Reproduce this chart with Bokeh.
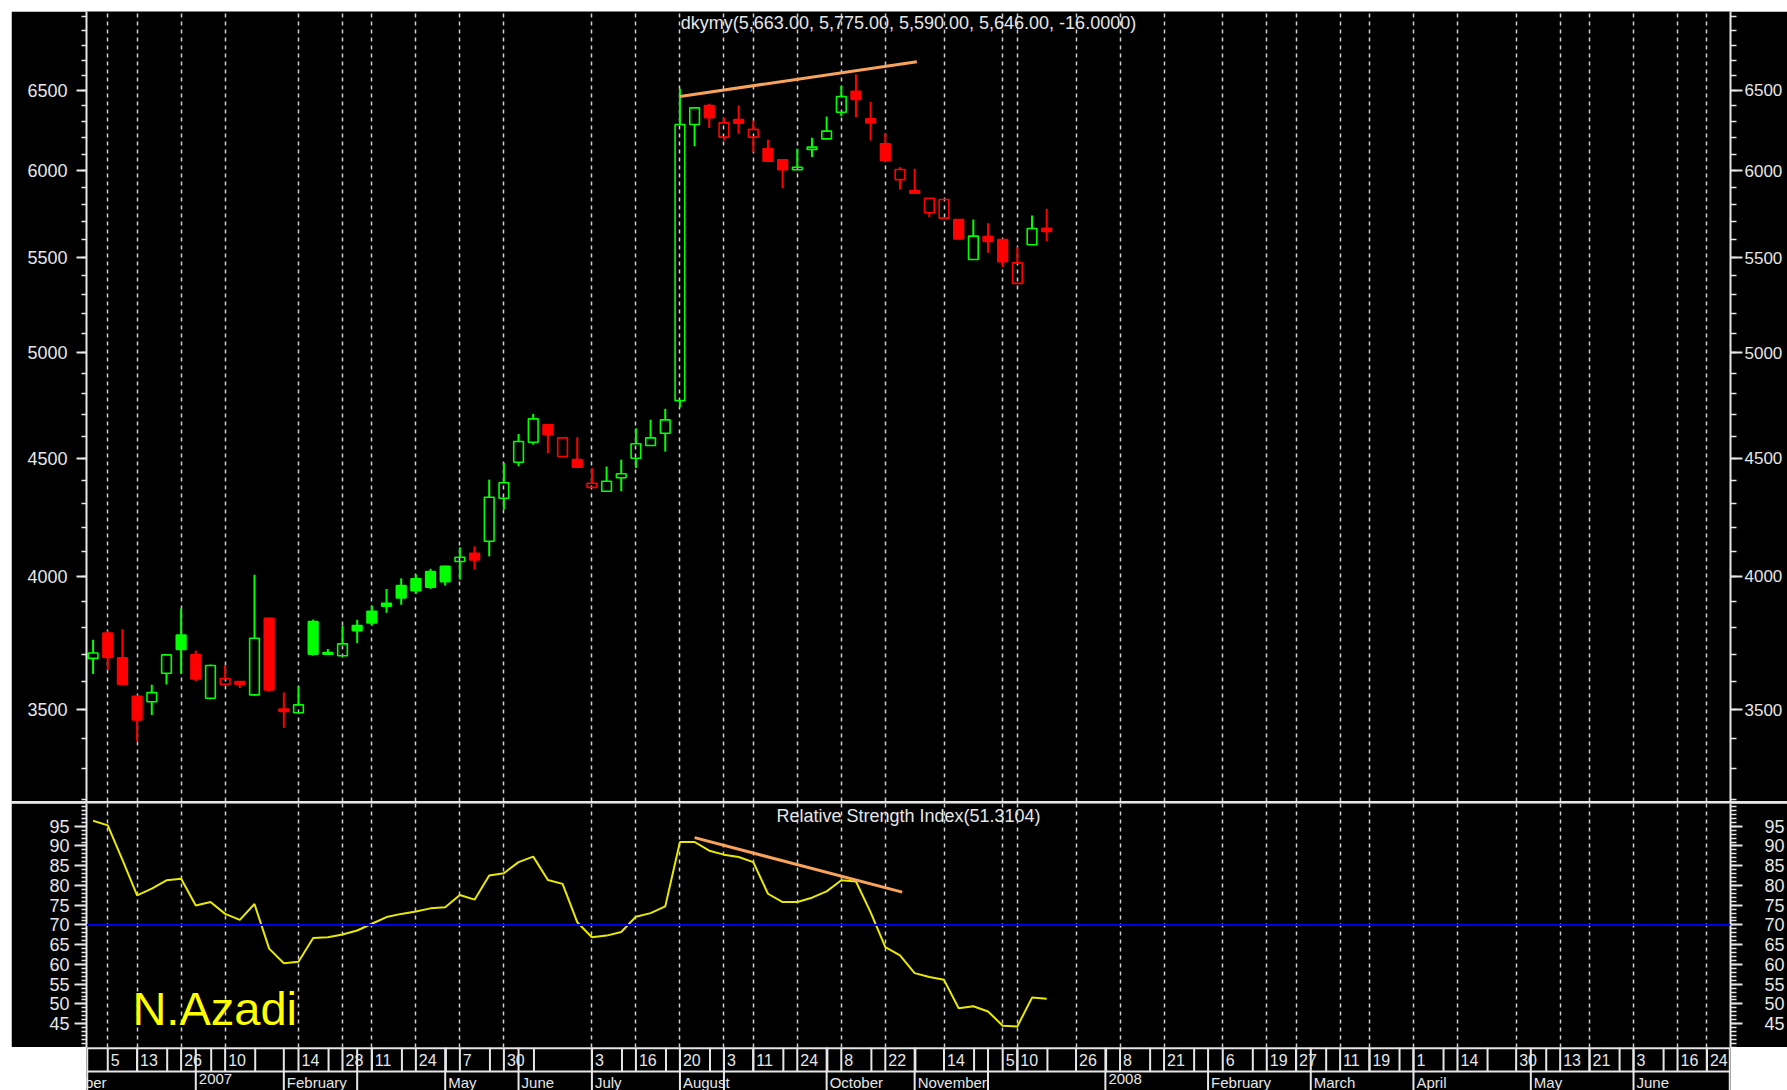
from bokeh.plotting import figure
from bokeh.models import (Range1d, FixedTicker, LogAxis, LinearAxis, Span, Label,
                          ColumnDataSource, PrintfTickFormatter, Spacer)
from bokeh.layouts import column
from bokeh.embed import file_html
from bokeh.resources import INLINE
from bokeh.core.properties import value

# ---------------- data ----------------
opens = [3684, 3779, 3686, 3547, 3528, 3630, 3771, 3698, 3540, 3590, 3600, 3552, 3835, 3502, 3489, 3822,
         3700, 3694, 3807, 3862, 3893, 3962, 3989, 4018, 4039, 4059, 4092, 4142, 4324, 4482, 4573, 4653,
         4508, 4494, 4371, 4354, 4413, 4500, 4558, 4614, 4767, 6283, 6403, 6204, 6314, 6204, 6132, 6065,
         6005, 6128, 6193, 6360, 6495, 6319, 6163, 5946, 5881, 5752, 5721, 5713, 5489, 5617, 5600, 5360,
         5571, 5663]
highs = [3753, 3785, 3793, 3550, 3588, 3700, 3873, 3713, 3662, 3660, 3602, 4005, 3838, 3561, 3582, 3830,
         3719, 3807, 3829, 3884, 3949, 3991, 4006, 4029, 4042, 4117, 4121, 4405, 4479, 4611, 4704, 4656,
         4596, 4596, 4456, 4463, 4494, 4637, 4677, 4728, 6511, 6392, 6414, 6325, 6403, 6308, 6187, 6068,
         6132, 6200, 6333, 6531, 6605, 6425, 6228, 6020, 6010, 5836, 5832, 5716, 5713, 5692, 5602, 5558,
         5736, 5775]
lows = [3627, 3642, 3588, 3391, 3481, 3589, 3627, 3601, 3537, 3588, 3577, 3550, 3564, 3437, 3487, 3694,
        3699, 3692, 3741, 3807, 3856, 3887, 3929, 3949, 3962, 3986, 4026, 4080, 4275, 4464, 4562, 4523,
        4505, 4458, 4369, 4352, 4354, 4456, 4556, 4530, 4735, 6148, 6260, 6183, 6224, 6111, 6054, 5895,
        6003, 6081, 6191, 6335, 6329, 6183, 6059, 5887, 5864, 5727, 5719, 5600, 5487, 5526, 5447, 5358,
        5569, 5590]
closes = [3704, 3688, 3590, 3464, 3560, 3697, 3717, 3609, 3658, 3611, 3590, 3759, 3570, 3494, 3517, 3700,
          3706, 3738, 3788, 3817, 3881, 3914, 3942, 3956, 3978, 4076, 4065, 4328, 4391, 4576, 4681, 4607,
          4593, 4460, 4389, 4398, 4431, 4566, 4593, 4676, 6283, 6388, 6325, 6293, 6290, 6252, 6056, 6005,
          6020, 6142, 6241, 6461, 6442, 6293, 6061, 6006, 5866, 5836, 5829, 5604, 5619, 5589, 5478, 5471,
          5662, 5646]
rsi = [96.4, 95.2, 86.5, 77.5, 79.2, 81.3, 81.7, 74.9, 75.8, 72.8, 71.3, 75.3, 64.0, 60.3, 60.7, 66.7,
       66.9, 67.6, 68.6, 70.3, 72.0, 72.8, 73.4, 74.2, 74.5, 77.6, 76.4, 82.5, 83.1, 85.9, 87.3, 81.4,
       80.4, 70.7, 66.9, 67.3, 68.2, 72.1, 73.0, 74.7, 91.0, 91.0, 88.8, 87.8, 87.2, 85.9, 77.9, 75.8,
       75.8, 76.9, 78.5, 81.3, 81.0, 73.2, 64.4, 62.3, 57.8, 56.8, 56.1, 48.9, 49.4, 48.1, 44.5, 44.3,
       51.6, 51.3104]
bars = list(range(len(closes)))

price_ticks = [3500, 4000, 4500, 5000, 5500, 6000, 6500]
price_minor = list(range(3200, 7100, 100))
rsi_ticks = [45, 50, 55, 60, 65, 70, 75, 80, 85, 90, 95]
rsi_minor = list(range(39, 101))
rsi_level = 70

date_idx = [1, 3, 6, 9, 14, 17, 19, 22, 25, 28, 34, 37, 40, 43, 45, 48, 51, 54, 58, 62, 63, 67, 70, 73,
            77, 80, 82, 85, 87, 90, 93, 97, 100, 102, 105, 108, 110]
date_txt = ["5", "13", "26", "10", "14", "28", "11", "24", "7", "30", "3", "16", "20", "3", "11", "24",
            "8", "22", "14", "5", "10", "26", "8", "21", "6", "19", "27", "11", "19", "1", "14", "30",
            "13", "21", "3", "16", "24"]
month_idx = [-4, 7, 13, 18, 24, 29, 34, 40, 43, 50, 56, 61, 69, 76, 83, 90, 98, 105]
month_txt = ["December", "2007", "February", "", "May", "June", "July", "August", "", "October",
             "November", "", "2008", "February", "March", "April", "May", "June"]

price_trend_x = [40.0, 56.15]
price_trend_y = [6461, 6690]
rsi_trend_x = [41.0, 55.15]
rsi_trend_y = [92.1, 78.3]

symbol = "dkymy"
author = "N.Azadi"

# ---------------- layout constants ----------------
W = 1776
BL, BR = 75, 56
PRICE_H, SEP_H, RSI_H, STRIP_H = 790, 2, 244, 43
X0, X1 = -0.45, 111.61
FG = "#e6e6e6"
FONT = "Liberation Sans"
GREEN, RED = "#00ff00", "#ff0000"
ORANGE = "#f7a35c"

title_text = "%s(%s, %s, %s, %s, %.4f)" % (
    symbol, f"{opens[-1]:,.2f}", f"{highs[-1]:,.2f}", f"{lows[-1]:,.2f}", f"{closes[-1]:,.2f}",
    closes[-1] - closes[-2])
rsi_title = "Relative Strength Index(%.4f)" % rsi[-1]

x_range = Range1d(X0, X1)


def base_fig(h, y_range, y_type="linear", border="black"):
    p = figure(width=W, height=h, x_range=x_range, y_range=y_range, y_axis_type=y_type,
               x_axis_location=None, y_axis_location=None, output_backend="svg",
               toolbar_location=None, background_fill_color="black", border_fill_color=border,
               outline_line_color=None, min_border_left=BL, min_border_right=BR,
               min_border_top=0, min_border_bottom=0)
    p.ygrid.visible = False
    return p


def style_axis(ax, tick_out, minor_out, standoff, size="18px"):
    ax.axis_line_color = FG
    ax.axis_line_width = 2
    ax.major_tick_line_color = FG
    ax.major_tick_line_width = 2
    ax.minor_tick_line_color = FG
    ax.minor_tick_line_width = 1.5
    ax.major_tick_in = 0
    ax.major_tick_out = tick_out
    ax.minor_tick_in = 0
    ax.minor_tick_out = minor_out
    ax.major_label_standoff = standoff
    ax.major_label_text_color = FG
    ax.major_label_text_font = FONT
    ax.major_label_text_font_size = size


def style_grid(p):
    p.xgrid.ticker = FixedTicker(ticks=date_idx)
    p.xgrid.grid_line_color = "#cfcfcf"
    p.xgrid.grid_line_width = 1.5
    p.xgrid.grid_line_dash = "4 4"


# ---------------- price panel ----------------
p1 = base_fig(PRICE_H, Range1d(3193, 7034), "log")
style_grid(p1)
la = LogAxis(ticker=FixedTicker(ticks=price_ticks, minor_ticks=price_minor),
             formatter=PrintfTickFormatter(format="%d"))
style_axis(la, 10, 5, 9)
p1.add_layout(la, "left")
ra = LogAxis(ticker=FixedTicker(ticks=price_ticks, minor_ticks=price_minor),
             formatter=PrintfTickFormatter(format="%d"))
style_axis(ra, 12, 6, 2, "17px")
p1.add_layout(ra, "right")

prev_close = [opens[0]] + closes[:-1]
src = ColumnDataSource(dict(
    x=bars,
    hi=highs, lo=lows,
    top=[max(o, c) for o, c in zip(opens, closes)],
    bot=[min(o, c) for o, c in zip(opens, closes)],
    color=[GREEN if c >= pc else RED for c, pc in zip(closes, prev_close)],
    alpha=[0.0 if c > o else 1.0 for o, c in zip(opens, closes)],
))
p1.segment(x0="x", y0="hi", x1="x", y1="top", source=src, line_color="color", line_width=2)
p1.segment(x0="x", y0="bot", x1="x", y1="lo", source=src, line_color="color", line_width=2)
p1.vbar(x="x", width=0.66, top="top", bottom="bot", source=src, fill_color="color",
        fill_alpha="alpha", line_color="color", line_width=1.6)
p1.line(price_trend_x, price_trend_y, line_color=ORANGE, line_width=3)
p1.add_layout(Label(x=(X0 + X1) / 2, y=6957, text=title_text, text_align="center",
                    text_baseline="middle", text_color=FG, text_font=FONT, text_font_size="18px"))

# ---------------- RSI panel ----------------
p2 = base_fig(RSI_H, Range1d(38.97, 100.75))
style_grid(p2)
la2 = LinearAxis(ticker=FixedTicker(ticks=rsi_ticks, minor_ticks=rsi_minor))
style_axis(la2, 12, 5, 5)
p2.add_layout(la2, "left")
ra2 = LinearAxis(ticker=FixedTicker(ticks=rsi_ticks, minor_ticks=rsi_minor))
style_axis(ra2, 12, 6, 22)
p2.add_layout(ra2, "right")
p2.add_layout(Span(location=rsi_level, dimension="width", line_color="#0000e6", line_width=2))
p2.line(bars, rsi, line_color="#e8e800", line_width=2)
p2.line(rsi_trend_x, rsi_trend_y, line_color=ORANGE, line_width=3)
p2.add_layout(Label(x=(X0 + X1) / 2, y=97.7, text=rsi_title, text_align="center",
                    text_baseline="middle", text_color=FG, text_font=FONT, text_font_size="18px"))
p2.add_layout(Label(x=2.68, y=48.9, text=author, text_align="left", text_baseline="middle",
                    text_color="#ffff00", text_font=FONT, text_font_size="47px"))

# ---------------- date strip ----------------
p3 = base_fig(STRIP_H, Range1d(0, STRIP_H), border="white")
p3.xgrid.visible = False
ROW = 19
cell_end = []
for i, k in enumerate(date_idx):
    nxt = date_idx[i + 1] if i + 1 < len(date_idx) else X1 + 5
    cell_end.append(min(k + 2.05, nxt))
row1_x = date_idx + cell_end
p3.segment(x0=row1_x, y0=[ROW] * len(row1_x), x1=row1_x, y1=[STRIP_H] * len(row1_x),
           line_color=FG, line_width=2)
p3.segment(x0=month_idx, y0=[0] * len(month_idx), x1=month_idx, y1=[STRIP_H] * len(month_idx),
           line_color=FG, line_width=2)
for loc, dim in [(ROW, "width"), (STRIP_H - 0.7, "width"), (X0 + 0.05, "height"),
                 (X1 - 0.05, "height")]:
    p3.add_layout(Span(location=loc, dimension=dim, line_color=FG, line_width=2))
p3.text(x=date_idx, y=[STRIP_H - 12] * len(date_idx), text=date_txt, x_offset=3,
        text_baseline="middle", text_color=FG, text_font=value(FONT), text_font_size=value("16px"))
p3.text(x=month_idx, y=[ROW - 2] * len(month_idx), text=month_txt, x_offset=3, text_baseline="top",
        text_color=FG, text_font=value(FONT), text_font_size=value("15px"))

sep = Spacer(width=W, height=SEP_H, styles={"background-color": FG})

layout = column(p1, sep, p2, p3, spacing=0, margin=(11, 0, 0, 11))

open("out.html", "w").write(file_html(layout, INLINE))
